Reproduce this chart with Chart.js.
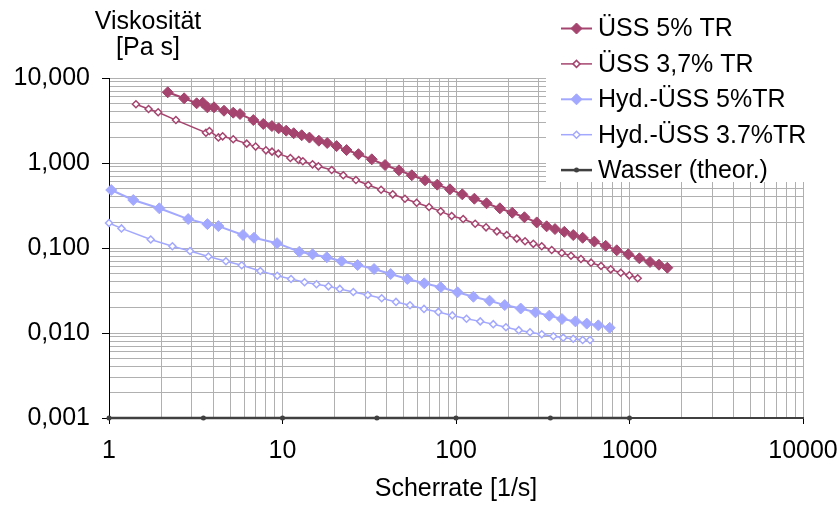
<!DOCTYPE html>
<html>
<head>
<meta charset="utf-8">
<script src="https://cdn.jsdelivr.net/npm/chart.js@4.4.1/dist/chart.umd.min.js"></script>
<style>
  html, body { margin: 0; padding: 0; background: #fff; }
</style>
</head>
<body>
<canvas id="chart" width="838" height="508"></canvas>
<script>
// Viskosität vs. Scherrate (log-log)
const seriesNames = ['ÜSS 5% TR', 'ÜSS 3,7% TR', 'Hyd.-ÜSS 5%TR', 'Hyd.-ÜSS 3.7%TR', 'Wasser (theor.)'];

const uss5X = [2.18, 2.71, 3.2, 3.47, 3.69, 4.03, 4.6, 5.2, 5.69, 6.79, 7.75, 8.69, 9.5, 10.5, 11.6, 12.9, 14.3, 16.2, 18.1, 20.5, 23.4, 27.4, 32.7,
  39, 46.9, 55.6, 66.3, 78, 92.3, 108.7, 127.6, 150, 179, 211, 248, 292, 333, 372, 421, 474, 537, 627, 729, 844, 984, 1140, 1313, 1479, 1652];
const uss5Y = [6.79, 5.77, 5.04, 5.12, 4.52, 4.52, 4.12, 3.91, 3.77, 3.2, 2.88, 2.72, 2.56, 2.4, 2.24, 2.12, 1.99, 1.83, 1.72, 1.58, 1.42, 1.27, 1.105,
  0.947, 0.82, 0.717, 0.626, 0.556, 0.49, 0.428, 0.38, 0.336, 0.293, 0.26, 0.23, 0.2, 0.18, 0.167, 0.155, 0.142, 0.132, 0.119, 0.106, 0.094, 0.0843, 0.0757, 0.0685, 0.0636, 0.0586];

const uss37X = [1.43, 1.69, 1.92, 2.43, 3.62, 3.79, 4.27, 4.52, 5.2, 6.22, 7.0, 8.03, 8.7, 9.46, 11.1, 12.4, 13.1, 14.9, 16.1, 19.2, 22.4, 26.5, 31.2,
  37, 43.2, 50.8, 59.3, 69.9, 81.6, 94.4, 110, 129, 149, 172, 196, 224, 250, 279, 312, 356, 407, 460, 525, 600, 685, 779, 890, 998, 1115];
const uss37Y = [4.91, 4.32, 3.95, 3.2, 2.27, 2.38, 2.0, 2.06, 1.9, 1.69, 1.56, 1.41, 1.36, 1.29, 1.145, 1.085, 1.047, 0.965, 0.914, 0.827, 0.717, 0.631, 0.551,
  0.485, 0.428, 0.38, 0.341, 0.304, 0.27, 0.238, 0.219, 0.193, 0.175, 0.157, 0.142, 0.129, 0.12, 0.112, 0.105, 0.0947, 0.0873, 0.0811, 0.0742, 0.0672, 0.0614, 0.0561, 0.0512, 0.0477, 0.044];

const hyd5X = [1.03, 1.38, 1.95, 2.86, 3.69, 4.27, 5.92, 6.85, 9.3, 12.5, 14.9, 18.0, 21.9, 27.1, 33.7, 42, 52.4, 65.6, 81.6, 102, 126, 156,
  191, 236, 287, 345, 408, 488, 567, 661, 769];
const hyd5Y = [0.481, 0.367, 0.293, 0.219, 0.191, 0.181, 0.142, 0.132, 0.114, 0.0904, 0.0843, 0.0778, 0.0698, 0.063, 0.0566, 0.0494, 0.0432, 0.0384, 0.0345, 0.0301, 0.0267, 0.024,
  0.0213, 0.0194, 0.0175, 0.016, 0.0146, 0.0137, 0.0129, 0.0123, 0.0115];

const hyd37X = [1.0, 1.18, 1.74, 2.32, 2.93, 3.74, 4.72, 5.82, 7.45, 9.33, 11.2, 13.4, 15.7, 18.4, 21.4, 25.6, 31, 37.3, 45.1, 54.3, 65.4, 79.1, 95.2, 115, 138,
  164, 194, 230, 267, 312, 364, 415, 474, 537, 592];
const hyd37Y = [0.197, 0.17, 0.126, 0.105, 0.0922, 0.0794, 0.0698, 0.0626, 0.0536, 0.0472, 0.0432, 0.0395, 0.0374, 0.0354, 0.033, 0.0304, 0.028, 0.0256, 0.0232, 0.0212, 0.0192, 0.0177, 0.0161, 0.0147, 0.0137,
  0.0127, 0.0117, 0.0108, 0.0102, 0.00966, 0.00915, 0.00881, 0.00857, 0.00828, 0.00828];

const wasserX = [1, 3.5, 10, 35, 100, 350, 1000];
const wasserY = [0.001, 0.001, 0.001, 0.001, 0.001, 0.001, 0.001];

const xTickValues = [1, 10, 100, 1000, 10000];
const xTickLabels = ['1', '10', '100', '1000', '10000'];
const yTickValues = [0.001, 0.01, 0.1, 1, 10];
const yTickLabels = ['0,001', '0,010', '0,100', '1,000', '10,000'];

const colorUss = '#a5446e';
const colorHyd = '#a3a8ff';
const colorWasser = '#404040';
const FONT = "'Liberation Sans', Arial, sans-serif";

function toPoints(xs, ys) {
  return xs.map((x, i) => ({ x: x, y: ys[i] }));
}

// grid values 1..9 per decade
function logGrid(lo, hi) {
  const out = [];
  for (let d = lo; d < hi * 0.999; d *= 10) {
    for (let m = 1; m < 10; m++) out.push(+(m * d).toPrecision(6));
  }
  out.push(hi);
  return out;
}

function isDecade(v) {
  const l = Math.log10(v);
  return Math.abs(l - Math.round(l)) < 1e-6;
}

function labelFor(values, labels, v) {
  const i = values.findIndex(t => Math.abs(t - v) / t < 1e-6);
  return i >= 0 ? labels[i] : '';
}

function diamond(ctx, x, y, r) {
  ctx.beginPath();
  ctx.moveTo(x - r, y);
  ctx.lineTo(x, y - r);
  ctx.lineTo(x + r, y);
  ctx.lineTo(x, y + r);
  ctx.closePath();
}

// legend box on top of the plot + y axis title
const overlayPlugin = {
  id: 'overlay',
  afterDraw(chart) {
    const ctx = chart.ctx;
    ctx.save();
    ctx.fillStyle = '#fff';
    ctx.fillRect(546, 0, 292, 182);

    ctx.font = '25px ' + FONT;
    ctx.textBaseline = 'middle';
    ctx.fillStyle = '#000';
    ctx.textAlign = 'center';
    ctx.fillText('Viskosität', 148, 22);
    ctx.fillText('[Pa s]', 148, 48);

    ctx.textAlign = 'left';
    chart.data.datasets.forEach((ds, i) => {
      const y = 28.5 + i * 35.4;
      ctx.strokeStyle = ds.borderColor;
      ctx.lineWidth = ds.borderWidth;
      ctx.beginPath();
      ctx.moveTo(561, y);
      ctx.lineTo(592, y);
      ctx.stroke();
      const cx = 576.5;
      if (ds.pointStyle === 'circle') {
        ctx.beginPath();
        ctx.arc(cx, y, ds.pointRadius, 0, Math.PI * 2);
        ctx.fillStyle = ds.pointBackgroundColor;
        ctx.fill();
      } else {
        diamond(ctx, cx, y, ds.pointRadius);
        ctx.fillStyle = ds.pointBackgroundColor;
        ctx.fill();
        ctx.lineWidth = ds.pointBorderWidth;
        ctx.strokeStyle = ds.pointBorderColor;
        ctx.stroke();
      }
      ctx.fillStyle = '#000';
      ctx.fillText(seriesNames[i], 598, y + 1);
    });
    ctx.restore();
  }
};

const ctx = document.getElementById('chart').getContext('2d');
new Chart(ctx, {
  type: 'line',
  data: {
    datasets: [
      {
        label: seriesNames[0], data: toPoints(uss5X, uss5Y),
        borderColor: colorUss, borderWidth: 2, pointStyle: 'rectRot', pointRadius: 5.5,
        pointBackgroundColor: colorUss, pointBorderColor: colorUss, pointBorderWidth: 1
      },
      {
        label: seriesNames[1], data: toPoints(uss37X, uss37Y),
        borderColor: colorUss, borderWidth: 1.5, pointStyle: 'rectRot', pointRadius: 3.5,
        pointBackgroundColor: '#fff', pointBorderColor: colorUss, pointBorderWidth: 1.5
      },
      {
        label: seriesNames[2], data: toPoints(hyd5X, hyd5Y),
        borderColor: colorHyd, borderWidth: 2, pointStyle: 'rectRot', pointRadius: 5.5,
        pointBackgroundColor: colorHyd, pointBorderColor: colorHyd, pointBorderWidth: 1
      },
      {
        label: seriesNames[3], data: toPoints(hyd37X, hyd37Y),
        borderColor: colorHyd, borderWidth: 1.5, pointStyle: 'rectRot', pointRadius: 3.5,
        pointBackgroundColor: '#fff', pointBorderColor: colorHyd, pointBorderWidth: 1.5
      },
      {
        label: seriesNames[4], data: toPoints(wasserX, wasserY),
        borderColor: colorWasser, borderWidth: 2.5, pointStyle: 'circle', pointRadius: 2.5,
        pointBackgroundColor: colorWasser, pointBorderColor: colorWasser, pointBorderWidth: 0
      }
    ]
  },
  options: {
    responsive: false,
    animation: false,
    devicePixelRatio: 1,
    clip: false,
    layout: { padding: { top: 78, right: 35, left: 0, bottom: 0 } },
    elements: { line: { tension: 0 } },
    plugins: {
      legend: { display: false },
      tooltip: { enabled: false }
    },
    scales: {
      x: {
        type: 'logarithmic',
        min: 1, max: 10000,
        afterFit: (s) => { s.height = 90; s.paddingLeft = 0; s.paddingRight = 0; },
        afterBuildTicks: (s) => { s.ticks = logGrid(1, 10000).map(v => ({ value: v })); },
        border: { color: colorWasser, width: 2 },
        grid: {
          color: '#b0b0b0', lineWidth: 1, tickLength: 6,
          tickColor: (c) => (c.tick && isDecade(c.tick.value)) ? '#000' : 'rgba(0,0,0,0)'
        },
        ticks: {
          autoSkip: false, maxRotation: 0, padding: 12, color: '#000',
          font: { family: FONT, size: 25 },
          callback: (v) => labelFor(xTickValues, xTickLabels, v)
        },
        title: {
          display: true, text: 'Scherrate [1/s]', color: '#000',
          font: { family: FONT, size: 25 }, padding: { top: 0, bottom: 4 }
        }
      },
      y: {
        type: 'logarithmic',
        min: 0.001, max: 10,
        afterFit: (s) => { s.width = 109; s.paddingTop = 0; s.paddingBottom = 0; },
        afterBuildTicks: (s) => { s.ticks = logGrid(0.001, 10).map(v => ({ value: v })); },
        border: { color: '#000', width: 1 },
        grid: {
          color: '#b0b0b0', lineWidth: 1, tickLength: 7,
          tickColor: (c) => (c.tick && isDecade(c.tick.value)) ? '#000' : 'rgba(0,0,0,0)'
        },
        ticks: {
          autoSkip: false, padding: 12, color: '#000',
          font: { family: FONT, size: 25 },
          callback: (v) => labelFor(yTickValues, yTickLabels, v)
        }
      }
    }
  },
  plugins: [overlayPlugin]
});
</script>
</body>
</html>
